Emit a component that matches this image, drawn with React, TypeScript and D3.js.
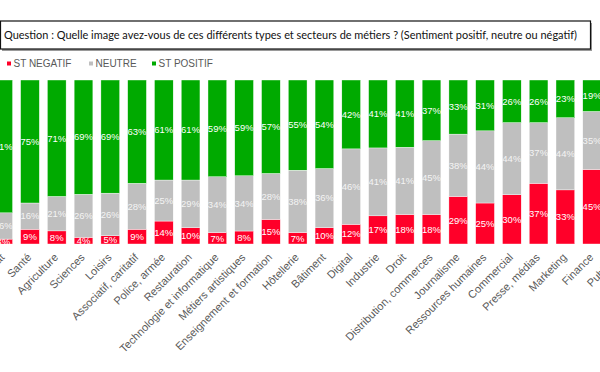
import React, { useEffect, useRef } from 'react';
import * as d3 from 'd3';

// Sectors, left to right (the first and last ones are cropped in the reference)
const categories = [
  'Artisanat', 'Santé', 'Agriculture', 'Sciences', 'Loisirs', 'Associatif, caritatif',
  'Police, armée', 'Restauration', 'Technologie et informatique', 'Métiers artistiques',
  'Enseignement et formation', 'Hôtellerie', 'Bâtiment', 'Digital', 'Industrie', 'Droit',
  'Distribution, commerces', 'Journalisme', 'Ressources humaines', 'Commercial',
  'Presse, médias', 'Marketing', 'Finance', 'Publicité',
];

const negatif = [3, 9, 8, 4, 5, 9, 14, 10, 7, 8, 15, 7, 10, 12, 17, 18, 18, 29, 25, 30, 37, 33, 45, 48];
const neutre = [16, 16, 21, 26, 26, 28, 25, 29, 34, 34, 28, 38, 36, 46, 41, 41, 45, 38, 44, 44, 37, 44, 35, 34];
const positif = [81, 75, 71, 69, 69, 63, 61, 61, 59, 59, 57, 55, 54, 42, 41, 41, 37, 33, 31, 26, 26, 23, 19, 18];

const seriesKeys = ['neg', 'neu', 'pos'];
const seriesNames = ['ST NEGATIF', 'NEUTRE', 'ST POSITIF'];
const seriesColors = ['#ff0029', '#bfbfbf', '#00aa00'];

const title = 'Question : Quelle image avez-vous de ces différents types et secteurs de métiers ? (Sentiment positif, neutre ou négatif)';

export default function App() {
  const svgRef = useRef<SVGSVGElement>(null);

  useEffect(() => {
    if (!svgRef.current) return;
    const width = 600;
    const height = 372;
    const svg = d3.select(svgRef.current);
    svg.selectAll('*').remove();

    // title box with a small shadow
    svg.append('rect')
      .attr('x', 2).attr('y', 23).attr('width', 590).attr('height', 28)
      .attr('fill', '#9a9a9a');
    svg.append('rect')
      .attr('x', 0.5).attr('y', 21).attr('width', 590).attr('height', 28)
      .attr('fill', '#fff').attr('stroke', '#111').attr('stroke-width', 1.2);
    svg.append('text')
      .attr('x', 4).attr('y', 38.5)
      .attr('textLength', 573).attr('lengthAdjust', 'spacingAndGlyphs')
      .style('font-family', 'Lato, "Open Sans", sans-serif')
      .style('font-size', '12px')
      .attr('fill', '#111')
      .text(title);

    // legend
    const legendX = [7, 89, 152];
    const legend = svg.append('g')
      .style('font-family', '"Liberation Sans", Arial, sans-serif')
      .style('font-size', '10px');
    seriesNames.forEach((name, i) => {
      legend.append('rect')
        .attr('x', legendX[i]).attr('y', 61.5).attr('width', 4).attr('height', 4)
        .attr('fill', seriesColors[i]);
      legend.append('text')
        .attr('x', legendX[i] + 6.5).attr('y', 67)
        .attr('fill', '#595959')
        .text(name);
    });

    const rows = categories.map((c, i) => ({ cat: c, neg: negatif[i], neu: neutre[i], pos: positif[i] }));
    const stacked = d3.stack<any>().keys(seriesKeys).offset(d3.stackOffsetExpand)(rows);
    const raw = [negatif, neutre, positif];

    const x = d3.scaleBand<string>()
      .domain(categories)
      .range([-14.2, 636.3])
      .paddingInner(0.3)
      .paddingOuter(0.3);
    const y = d3.scaleLinear().domain([0, 1]).range([244, 80]);

    const layers = svg.append('g')
      .selectAll('g')
      .data(stacked)
      .join('g')
      .attr('fill', (_d, i) => seriesColors[i]);

    layers.selectAll('rect')
      .data(d => d)
      .join('rect')
      .attr('x', (d: any) => x(d.data.cat)!)
      .attr('width', x.bandwidth())
      .attr('y', d => y(d[1]))
      .attr('height', d => y(d[0]) - y(d[1]))
      .attr('stroke', '#fff')
      .attr('stroke-width', 0.4);

    // value labels
    const labels = svg.append('g')
      .style('font-family', '"Liberation Sans", Arial, sans-serif')
      .style('font-size', '9.5px')
      .attr('text-anchor', 'middle');
    stacked.forEach((layer, si) => {
      labels.selectAll(`text.s${si}`)
        .data(layer)
        .join('text')
        .attr('class', `s${si}`)
        .attr('x', (d: any) => x(d.data.cat)! + x.bandwidth() / 2)
        .attr('y', d => (y(d[0]) + y(d[1])) / 2)
        .attr('dy', '0.35em')
        .attr('fill', si === 1 ? '#f4f4f4' : '#fff')
        .text((_d, i) => `${raw[si][i]}%`);
    });

    // category labels, rotated
    svg.append('g')
      .style('font-family', '"Liberation Sans", Arial, sans-serif')
      .style('font-size', '11px')
      .selectAll('text')
      .data(categories)
      .join('text')
      .attr('transform', d => `translate(${x(d)! + x.bandwidth() / 2 + 2},258) rotate(-45)`)
      .attr('text-anchor', 'end')
      .attr('fill', '#595959')
      .text(d => d);

    svg.attr('width', width).attr('height', height);
  }, []);

  return (
    <div style={{ position: 'absolute', left: 0, top: 0, width: 600, height: 372, background: '#fff' }}>
      <svg ref={svgRef} width={600} height={372} style={{ display: 'block', overflow: 'hidden' }} />
    </div>
  );
}
